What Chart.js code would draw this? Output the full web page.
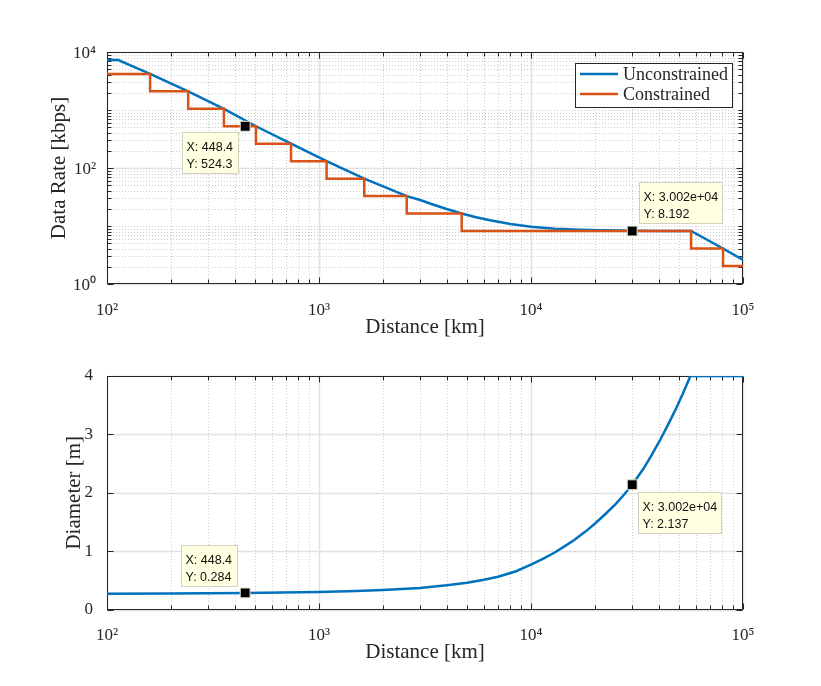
<!DOCTYPE html>
<html><head><meta charset="utf-8">
<script src="https://cdn.jsdelivr.net/npm/chart.js@4.4.1/dist/chart.umd.min.js"></script>
<style>
html,body{margin:0;padding:0;background:#fff;}
#wrap{position:relative;width:821px;height:686px;background:#fff;}
canvas{position:absolute;left:0;}
#c1{top:0;} #c2{top:343px;}
</style></head><body>
<div id="wrap"><canvas id="c1" width="821" height="343"></canvas><canvas id="c2" width="821" height="343"></canvas></div>
<script>
// ---------------- data ----------------
const xTickValues = [1e2, 1e3, 1e4, 1e5];
const xTickLabels = ['10²', '10³', '10⁴', '10⁵'];
const rateTickValues = [1e0, 1e2, 1e4];
const rateTickLabels = ['10⁰', '10²', '10⁴'];
const diameterTickValues = [0, 1, 2, 3, 4];
const diameterTickLabels = ['0', '1', '2', '3', '4'];

const seriesNames = ['Unconstrained', 'Constrained'];

const unconstrainedDistance = [100, 113, 159.7, 241.5, 356, 504, 738, 1086, 1635, 2593, 3000, 3500, 4000, 4710, 5500, 6500, 8000, 10000, 13000, 17000, 22000, 30000, 40000, 56900, 80500, 100000];
const unconstrainedRate     = [7280, 7280, 4194, 2097, 1049, 524.3, 262.1, 131.1, 65.5, 32.8, 28.0, 23.0, 19.6, 16.4, 14.2, 12.4, 10.8, 9.7, 9.0, 8.65, 8.45, 8.3, 8.24, 8.192, 4.096, 2.6];

const constrainedDistance = [100, 159.7, 241.5, 356, 504, 738, 1086, 1635, 2593, 4710, 56900, 80500, 100000];
const constrainedRate     = [4194.304, 2097.152, 1048.576, 524.288, 262.144, 131.072, 65.536, 32.768, 16.384, 8.192, 4.096, 2.048, 2.048];

const diameterDistance = [100, 200, 448.4, 1000, 1500, 2000, 3000, 4000, 5000, 6000, 7000, 8500, 10000, 11500, 13000, 14500, 16000, 18000, 20000, 22500, 25000, 27500, 30020, 33900, 37000, 40600, 44500, 48600, 52500, 56500, 100000];
const diameterValue    = [0.271, 0.274, 0.284, 0.300, 0.315, 0.333, 0.37, 0.415, 0.46, 0.51, 0.56, 0.655, 0.77, 0.875, 0.98, 1.09, 1.19, 1.33, 1.47, 1.64, 1.80, 1.97, 2.137, 2.41, 2.64, 2.90, 3.18, 3.46, 3.73, 4.0, 4.0];

const tipDistance      = [448.4, 30020];
const tipDistanceLabel = ['448.4', '3.002e+04'];
const tipRateValue     = [524.3, 8.192];
const tipRateLabel     = ['524.3', '8.192'];
const tipDiameterValue = [0.284, 2.137];
const tipDiameterLabel = ['0.284', '2.137'];

// ---------------- styles ----------------
const SERIF = "'Liberation Serif','Times New Roman',serif";
const SANS = "'Liberation Sans',Arial,sans-serif";
const AXIS = '#262626';
const BLUE = '#0072BD';
const ORANGE = '#D95319';

function pts(xs, ys) { return xs.map((x, i) => ({x: x, y: ys[i]})); }
function near(a, b) { return Math.abs(a - b) <= Math.abs(b) * 1e-6 + 1e-9; }
function labelFor(values, labels, v) {
  const i = values.findIndex(t => near(v, t));
  return i >= 0 ? labels[i] : '';
}
function logGridValues(min, max) {
  const out = [];
  for (let e = Math.floor(Math.log10(min)); e <= Math.ceil(Math.log10(max)); e++) {
    for (let m = 1; m <= 9; m++) {
      const v = m * Math.pow(10, e);
      if (v >= min * 0.9999 && v <= max * 1.0001) out.push(v);
    }
  }
  return out;
}

// grid, box and inward ticks, MATLAB style
const matlabAxes = {
  id: 'matlabAxes',
  beforeDatasetsDraw(chart, args, o) {
    const ctx = chart.ctx, a = chart.chartArea;
    const xs = chart.scales.x, ys = chart.scales.y;
    const xAll = logGridValues(xs.min, xs.max);
    const yAll = o.yLog ? logGridValues(ys.min, ys.max) : o.yMajor.slice();
    const isMaj = (arr, v) => arr.some(m => near(v, m));
    const xMinor = xAll.filter(v => !isMaj(o.xMajor, v));
    const yMinor = yAll.filter(v => !isMaj(o.yMajor, v));
    const px = v => Math.round(xs.getPixelForValue(v)) + 0.5;
    const py = v => Math.round(ys.getPixelForValue(v)) + 0.5;
    ctx.save();
    // minor grid (dotted)
    ctx.strokeStyle = '#cbcbcb'; ctx.lineWidth = 1; ctx.setLineDash([1, 2]);
    ctx.beginPath();
    xMinor.forEach(v => { const p = px(v); ctx.moveTo(p, a.top); ctx.lineTo(p, a.bottom); });
    yMinor.forEach(v => { const p = py(v); ctx.moveTo(a.left, p); ctx.lineTo(a.right, p); });
    ctx.stroke();
    // major grid
    ctx.setLineDash([]); ctx.strokeStyle = '#e1e1e1'; ctx.lineWidth = 1.5;
    ctx.beginPath();
    o.xMajor.forEach(v => { const p = px(v); ctx.moveTo(p, a.top); ctx.lineTo(p, a.bottom); });
    o.yMajor.forEach(v => { const p = py(v); ctx.moveTo(a.left, p); ctx.lineTo(a.right, p); });
    ctx.stroke();
    // box
    ctx.strokeStyle = AXIS; ctx.lineWidth = 1;
    const L = Math.round(a.left) + 0.5, R = Math.round(a.right) - 0.5, T = Math.round(a.top) + 0.5, B = Math.round(a.bottom) - 0.5;
    ctx.strokeRect(L, T, R - L, B - T);
    // ticks
    ctx.beginPath();
    const tk = (vals, len, horiz) => vals.forEach(v => {
      if (horiz) { const p = px(v); ctx.moveTo(p, B); ctx.lineTo(p, B - len); ctx.moveTo(p, T); ctx.lineTo(p, T + len); }
      else { const p = py(v); ctx.moveTo(L, p); ctx.lineTo(L + len, p); ctx.moveTo(R, p); ctx.lineTo(R - len, p); }
    });
    tk(o.xMajor, 6, true); tk(xMinor, 4, true);
    tk(o.yMajor, 6, false); tk(yMinor, 4, false);
    ctx.stroke();
    ctx.restore();
  }
};

const matlabLegend = {
  id: 'matlabLegend',
  afterDatasetsDraw(chart, args, o) {
    if (!o || !o.show) return;
    const ctx = chart.ctx, a = chart.chartArea;
    const items = chart.data.datasets.filter(d => d.inLegend);
    const w = 157, h = 44;
    const x0 = Math.round(a.right - 11 - w), y0 = Math.round(a.top + 11);
    ctx.save();
    ctx.fillStyle = '#fff'; ctx.fillRect(x0, y0, w, h);
    ctx.strokeStyle = AXIS; ctx.lineWidth = 1; ctx.strokeRect(x0 + 0.5, y0 + 0.5, w, h);
    items.forEach((d, i) => {
      const yy = y0 + 11 + i * 20;
      ctx.strokeStyle = d.borderColor; ctx.lineWidth = d.borderWidth;
      ctx.beginPath(); ctx.moveTo(x0 + 5, yy); ctx.lineTo(x0 + 43, yy); ctx.stroke();
      ctx.fillStyle = AXIS; ctx.font = '18px ' + SERIF; ctx.textBaseline = 'middle'; ctx.textAlign = 'left';
      ctx.fillText(d.label, x0 + 48, yy + 1);
    });
    ctx.restore();
  }
};

const dataTips = {
  id: 'dataTips',
  afterDatasetsDraw(chart, args, o) {
    if (!o || !o.tips) return;
    const ctx = chart.ctx;
    ctx.save();
    ctx.font = '12.5px ' + SANS;
    o.tips.forEach(t => {
      const el = chart.getDatasetMeta(t.ds).data[t.idx];
      const mx = el.x, my = el.y;
      const tw = Math.max(ctx.measureText(t.lines[0]).width, ctx.measureText(t.lines[1]).width);
      const w = Math.max(Math.round(tw + 9), 57), h = 42;
      let bx, by;
      if (t.place === 'leftBelow') { bx = mx - 6 - w; by = my + 6; }
      else if (t.place === 'leftAbove') { bx = mx - 7 - w; by = my - 6 - h; }
      else if (t.place === 'rightAbove') { bx = mx + 7; by = my - 7 - h; }
      else { bx = mx + 6; by = my + 7; }
      bx = Math.round(bx); by = Math.round(by);
      ctx.fillStyle = '#ffffe1'; ctx.fillRect(bx, by, w, h);
      ctx.strokeStyle = '#d2d2c2'; ctx.lineWidth = 1; ctx.strokeRect(bx + 0.5, by + 0.5, w - 1, h - 1);
      ctx.fillStyle = '#111'; ctx.textBaseline = 'alphabetic'; ctx.textAlign = 'left';
      ctx.fillText(t.lines[0], bx + 4.5, by + 19);
      ctx.fillText(t.lines[1], bx + 4.5, by + 35.5);
    });
    ctx.restore();
  }
};

function xScale(height) {
  return {
    type: 'logarithmic', min: xTickValues[0], max: xTickValues[xTickValues.length - 1],
    afterBuildTicks: s => { s.ticks = xTickValues.map(v => ({value: v})); },
    afterFit: s => { s.height = height; },
    grid: {display: false}, border: {display: false},
    ticks: {autoSkip: false, maxRotation: 0, minRotation: 0, padding: 8, color: AXIS,
      font: {family: SERIF, size: 17}, callback: v => labelFor(xTickValues, xTickLabels, v)},
    title: {display: true, text: 'Distance [km]', color: AXIS, font: {family: SERIF, size: 21}, padding: {top: 0, bottom: 0}}
  };
}

const markerStyle = {showLine: false, pointStyle: 'rect', pointRadius: 7, pointBackgroundColor: '#000',
  pointBorderColor: '#e6e6d2', pointBorderWidth: 1, borderColor: '#000', backgroundColor: '#000', order: 0};

// ---------------- top chart ----------------
new Chart(document.getElementById('c1'), {
  type: 'line',
  data: {datasets: [
    {label: seriesNames[0], inLegend: true, data: pts(unconstrainedDistance, unconstrainedRate),
     borderColor: BLUE, backgroundColor: BLUE, borderWidth: 2.5, pointRadius: 0, tension: 0, fill: false, order: 2},
    {label: seriesNames[1], inLegend: true, data: pts(constrainedDistance, constrainedRate), stepped: 'before',
     borderColor: ORANGE, backgroundColor: ORANGE, borderWidth: 2.5, pointRadius: 0, tension: 0, fill: false, order: 1},
    Object.assign({label: 'tips', data: pts(tipDistance, tipRateValue)}, markerStyle)
  ]},
  options: {
    responsive: false, animation: false, events: [],
    layout: {padding: {left: 46.4, right: 78, top: 52, bottom: 3.4}},
    plugins: {
      legend: {display: false}, tooltip: {enabled: false},
      matlabAxes: {xMajor: xTickValues, yMajor: rateTickValues, yLog: true},
      matlabLegend: {show: true},
      dataTips: {tips: [
        {ds: 2, idx: 0, place: 'leftBelow', lines: ['X: ' + tipDistanceLabel[0], 'Y: ' + tipRateLabel[0]]},
        {ds: 2, idx: 1, place: 'rightAbove', lines: ['X: ' + tipDistanceLabel[1], 'Y: ' + tipRateLabel[1]]}
      ]}
    },
    scales: {
      x: xScale(55.6),
      y: {
        type: 'logarithmic', min: rateTickValues[0], max: rateTickValues[rateTickValues.length - 1],
        afterBuildTicks: s => { s.ticks = rateTickValues.map(v => ({value: v})); },
        afterFit: s => { s.width = 60.6; },
        grid: {display: false}, border: {display: false},
        ticks: {autoSkip: false, padding: 3, labelOffset: 2, color: AXIS, font: {family: SERIF, size: 17},
          callback: v => labelFor(rateTickValues, rateTickLabels, v)},
        title: {display: true, text: 'Data Rate [kbps]', color: AXIS, font: {family: SERIF, size: 21}, padding: {top: 0, bottom: 0}}
      }
    }
  },
  plugins: [matlabAxes, matlabLegend, dataTips]
});

// ---------------- bottom chart ----------------
new Chart(document.getElementById('c2'), {
  type: 'line',
  data: {datasets: [
    {label: 'Diameter', data: pts(diameterDistance, diameterValue),
     borderColor: BLUE, backgroundColor: BLUE, borderWidth: 2.5, pointRadius: 0, tension: 0, fill: false, order: 1},
    Object.assign({label: 'tips', data: pts(tipDistance, tipDiameterValue)}, markerStyle)
  ]},
  options: {
    responsive: false, animation: false, events: [],
    layout: {padding: {left: 61.4, right: 78, top: 33, bottom: 20.9}},
    plugins: {
      legend: {display: false}, tooltip: {enabled: false},
      matlabAxes: {xMajor: xTickValues, yMajor: diameterTickValues, yLog: false},
      dataTips: {tips: [
        {ds: 1, idx: 0, place: 'leftAbove', lines: ['X: ' + tipDistanceLabel[0], 'Y: ' + tipDiameterLabel[0]]},
        {ds: 1, idx: 1, place: 'rightBelow', lines: ['X: ' + tipDistanceLabel[1], 'Y: ' + tipDiameterLabel[1]]}
      ]}
    },
    scales: {
      x: xScale(55.6),
      y: {
        type: 'linear', min: diameterTickValues[0], max: diameterTickValues[diameterTickValues.length - 1],
        afterBuildTicks: s => { s.ticks = diameterTickValues.map(v => ({value: v})); },
        afterFit: s => { s.width = 45.6; },
        grid: {display: false}, border: {display: false},
        ticks: {autoSkip: false, padding: 6, color: AXIS, font: {family: SERIF, size: 17},
          callback: v => labelFor(diameterTickValues, diameterTickLabels, v)},
        title: {display: true, text: 'Diameter [m]', color: AXIS, font: {family: SERIF, size: 21}, padding: {top: 0, bottom: 0}}
      }
    }
  },
  plugins: [matlabAxes, dataTips]
});
</script>
</body></html>
